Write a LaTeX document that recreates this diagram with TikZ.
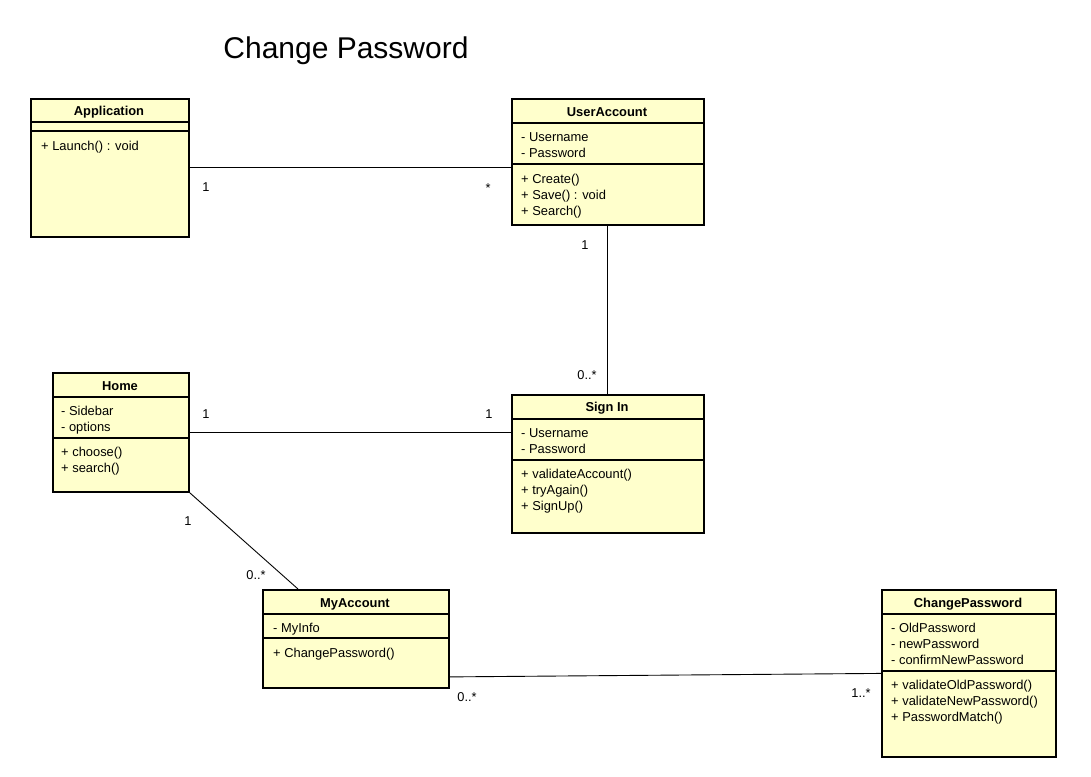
\documentclass[tikz,border=0pt]{standalone}
\usepackage{fontspec}
\setmainfont{Liberation Sans}
\definecolor{classfill}{HTML}{FFFFCC}
\tikzset{
  classbox/.style={draw, line width=1.8pt, fill=classfill, inner sep=0pt, anchor=north west},
  sepline/.style={line width=1.4pt},
  member/.style={anchor=base west, inner sep=0pt, font=\fontsize{12.9}{15}\selectfont},
  cname/.style={anchor=base, inner sep=0pt, font=\bfseries\fontsize{12.9}{15}\selectfont},
  mult/.style={inner sep=0pt, font=\fontsize{12.8}{15}\selectfont},
  assoc/.style={line width=0.9pt},
}
\begin{document}
\begin{tikzpicture}[x=1pt,y=-1pt]
\useasboundingbox (0,0) rectangle (1091,776);

% title
\node[inner sep=0pt, font=\fontsize{30}{34}\selectfont] (title) at (346,51) {Change Password};

% Application
\node[classbox, minimum width=158pt, minimum height=138pt] (app) at (30,98) {};
\node[cname] (appn) at (109,115.5) {Application};
\draw[sepline] (30,122) -- (188,122);
\draw[sepline] (30,131) -- (188,131);
\node[member] (app1) at (41,150) {+ Launch() : void};

% UserAccount
\node[classbox, minimum width=192pt, minimum height=126pt] (ua) at (511,98) {};
\node[cname] (uan) at (607,116) {UserAccount};
\draw[sepline] (511,123) -- (703,123);
\node[member] (ua1) at (521,141) {- Username};
\node[member] (ua2) at (521,157.5) {- Password};
\draw[sepline] (511,164) -- (703,164);
\node[member] (ua3) at (521,183) {+ Create()};
\node[member] (ua4) at (521,199) {+ Save() : void};
\node[member] (ua5) at (521,215) {+ Search()};

% Home
\node[classbox, minimum width=136pt, minimum height=119pt] (home) at (52,372) {};
\node[cname] (homen) at (120,390) {Home};
\draw[sepline] (52,397) -- (188,397);
\node[member] (home1) at (61,415) {- Sidebar};
\node[member] (home2) at (61,431) {- options};
\draw[sepline] (52,438) -- (188,438);
\node[member] (home3) at (61,456) {+ choose()};
\node[member] (home4) at (61,472) {+ search()};

% Sign In
\node[classbox, minimum width=192pt, minimum height=138pt] (si) at (511,394) {};
\node[cname] (sin) at (607,411.5) {Sign In};
\draw[sepline] (511,419) -- (703,419);
\node[member] (si1) at (521,437) {- Username};
\node[member] (si2) at (521,453.5) {- Password};
\draw[sepline] (511,460) -- (703,460);
\node[member] (si3) at (521,478.5) {+ validateAccount()};
\node[member] (si4) at (521,494.5) {+ tryAgain()};
\node[member] (si5) at (521,510.5) {+ SignUp()};

% MyAccount
\node[classbox, minimum width=186pt, minimum height=98pt] (ma) at (262,589) {};
\node[cname] (man) at (355,607) {MyAccount};
\draw[sepline] (262,614) -- (448,614);
\node[member] (ma1) at (273,632) {- MyInfo};
\draw[sepline] (262,638) -- (448,638);
\node[member] (ma2) at (273,657.5) {+ ChangePassword()};

% ChangePassword
\node[classbox, minimum width=174pt, minimum height=167pt] (cp) at (881,589) {};
\node[cname] (cpn) at (968,607) {ChangePassword};
\draw[sepline] (881,614) -- (1055,614);
\node[member] (cp1) at (891,632) {- OldPassword};
\node[member] (cp2) at (891,648) {- newPassword};
\node[member] (cp3) at (891,664.5) {- confirmNewPassword};
\draw[sepline] (881,671) -- (1055,671);
\node[member] (cp4) at (891,689.5) {+ validateOldPassword()};
\node[member] (cp5) at (891,705.5) {+ validateNewPassword()};
\node[member] (cp6) at (891,721.5) {+ PasswordMatch()};

% associations
\draw[assoc] (app.east) -- (app.east -| ua.west);
\draw[assoc] (ua.south) -- (si.north);
\draw[assoc] (home.east) -- (home.east -| si.west);
\draw[assoc] (home.south east) -- ([xshift=36pt]ma.north west);
\draw[assoc] ([yshift=-38pt]ma.east) -- (cp.west);

% multiplicities
\node[mult] (m1) at (206,187) {1};
\node[mult] (m2) at (488,188) {*};
\node[mult] (m3) at (585,245) {1};
\node[mult] (m4) at (587,375) {0..*};
\node[mult] (m5) at (206,414) {1};
\node[mult] (m6) at (489,414) {1};
\node[mult] (m7) at (188,521) {1};
\node[mult] (m8) at (256,575) {0..*};
\node[mult] (m9) at (467,697) {0..*};
\node[mult] (m10) at (861,693) {1..*};
\end{tikzpicture}
\end{document}
